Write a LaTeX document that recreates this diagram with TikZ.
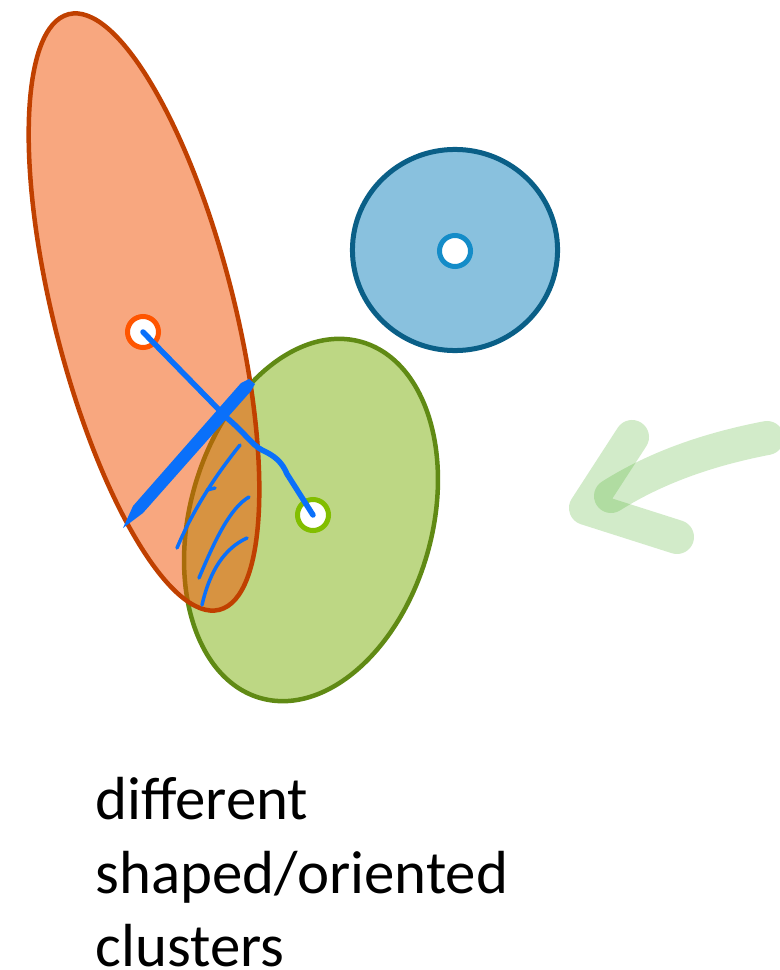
\documentclass[tikz,border=0pt]{standalone}
\usepackage{fontspec}
\newfontfamily\notefont{Carlito}
\usetikzlibrary{shapes.geometric}

\definecolor{orangefill}{RGB}{241,80,0}
\definecolor{orangeline}{RGB}{192,64,0}
\definecolor{orangedot}{RGB}{255,85,0}
\definecolor{greenfill}{RGB}{189,215,132}
\definecolor{greenline}{RGB}{96,138,20}
\definecolor{greendot}{RGB}{130,190,0}
\definecolor{bluefill}{RGB}{137,193,222}
\definecolor{blueline}{RGB}{10,95,135}
\definecolor{bluedot}{RGB}{20,140,200}
\definecolor{pen}{RGB}{10,112,250}
\definecolor{marker}{RGB}{75,175,40}

\begin{document}
\begin{tikzpicture}[x=0.01cm, y=-0.01cm,
          penline/.style={pen, line width=0.055cm, line cap=round, line join=round},
          markerline/.style={marker, draw opacity=0.25, line width=0.34cm, line cap=round, line join=round}]
          % Cluster and centre styles
          \tikzstyle{cluster} = [ellipse, draw, inner sep=0pt, line width=0.045cm]
          \tikzstyle{centre} = [circle, draw, fill=white, inner sep=0pt, minimum size=0.31cm, line width=0.05cm]

          \useasboundingbox (0,0) rectangle (780,970);

          % The three clusters
          \node (green)  [cluster, fill=greenfill, draw=greenline, minimum width=2.42cm, minimum height=3.70cm, rotate=-15.8] at (311,520) {};
          \node (orange) [cluster, fill=orangefill, fill opacity=0.5, draw=orangeline, draw opacity=1, minimum width=1.80cm, minimum height=6.14cm, rotate=14.2] at (144,312) {};
          \node (blue)   [cluster, fill=bluefill, draw=blueline, line width=0.05cm, minimum width=2.05cm, minimum height=2.01cm] at (455,250) {};

          % Their centres
          \node (ocentre) [centre, draw=orangedot] at (143,332) {};
          \node (gcentre) [centre, draw=greendot] at (313,515) {};
          \node (bcentre) [centre, draw=bluedot] at (455,251) {};

          % Pen marks
          \draw[penline] (ocentre.center) -- (227,418) .. controls (245,433) and (252,445) .. (262,450)
                .. controls (275,456) and (282,462) .. (287,474) -- (gcentre.center);
          \fill[pen] (241,383) -- (249,379) -- (255,384) -- (251,391) -- (143,513) -- (123,528) -- (133,506) -- cycle;
          \draw[penline, line width=0.035cm] (240,445) .. controls (220,470) and (195,505) .. (177,548);
          \draw[penline, line width=0.035cm] (207,490) -- (215,488);
          \draw[penline, line width=0.035cm] (249,497) .. controls (230,508) and (215,540) .. (199,578);
          \draw[penline, line width=0.035cm] (247,538) .. controls (225,548) and (210,570) .. (202,605);

          % Marker arrow
          \draw[markerline] (767,438) .. controls (715,448) and (660,465) .. (611,496);
          \draw[markerline] (632,437) -- (586,508) -- (677,537);

          \node (caption) [anchor=north west, inner sep=0pt, align=left, font=\notefont\fontsize{17.3pt}{20.8pt}\selectfont] at (95,777) {different\\shaped/oriented\\clusters};
\end{tikzpicture}
\end{document}
